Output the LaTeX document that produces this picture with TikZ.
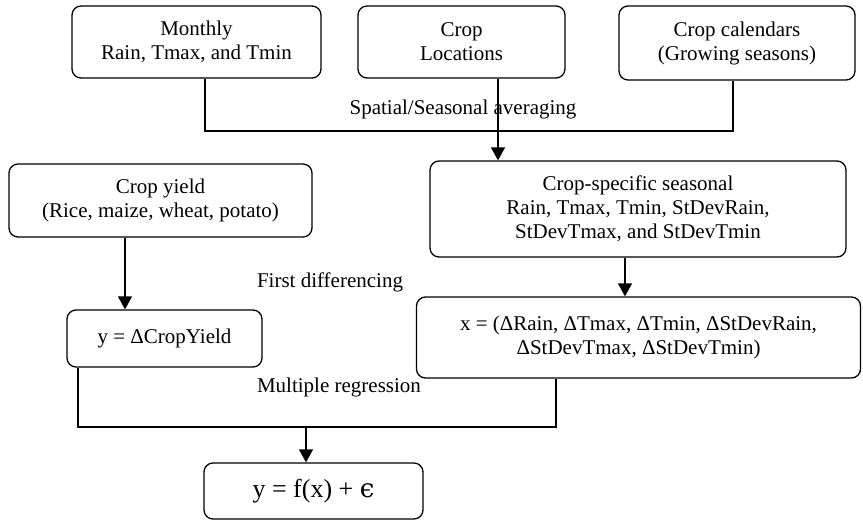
\documentclass[tikz,border=0pt]{standalone}
\usepackage{fontspec}
\setmainfont{Liberation Serif}
\newfontfamily\grkfont{DejaVu Serif}
\usetikzlibrary{arrows.meta}
\tikzset{box/.style={draw,line width=1.3pt,rounded corners=9pt,align=center,inner sep=0pt,
                     font=\fontsize{21}{24}\selectfont},
         lbl/.style={font=\fontsize{21}{24}\selectfont,inner sep=0pt},
         link/.style={line width=1.3pt},
         arr/.style={line width=1.3pt,-{Triangle[width=14pt,length=13pt]}}}
\begin{document}
\begin{tikzpicture}[x=1pt,y=-1pt]
                    \useasboundingbox (0,0) rectangle (863,520);
                    \node[box,minimum width=249pt,minimum height=72pt] (mon) at (196.5,42) {Monthly\\Rain, Tmax, and Tmin};
                    \node[box,minimum width=207pt,minimum height=72pt] (loc) at (461.5,42) {Crop\\Locations};
                    \node[box,minimum width=236pt,minimum height=74pt] (cal) at (737,43) {Crop calendars\\(Growing seasons)};
                    \node[box,minimum width=303pt,minimum height=73pt] (yld) at (160.5,200.5) {Crop yield\\(Rice, maize, wheat, potato)};
                    \node[box,minimum width=416pt,minimum height=96pt] (spec) at (638,209) {Crop-specific seasonal\\Rain, Tmax, Tmin, StDevRain,\\StDevTmax, and StDevTmin};
                    \node[box,minimum width=195pt,minimum height=57pt] (dy) at (164.5,338.5) {y = ΔCropYield};
                    \node[box,minimum width=444pt,minimum height=81pt] (dx) at (638.5,337.5) {x = (ΔRain, ΔTmax, ΔTmin, ΔStDevRain,\\ΔStDevTmax, ΔStDevTmin)};
                    \node[box,minimum width=219pt,minimum height=56pt,font=\fontsize{26}{30}\selectfont] (fin) at (313.5,491) {y = f(x) + {\grkfont ϵ}};
                    \node[lbl] (avg) at (463,109) {Spatial/Seasonal averaging};
                    \node[lbl] (dif) at (330,282) {First differencing};
                    \node[lbl] (reg) at (339,387) {Multiple regression};
                    \coordinate (ja) at (205,131);
                    \coordinate (jb) at (733,131);
                    \coordinate (jc) at (498,0);
                    \coordinate (jd) at (625,0);
                    \coordinate (je) at (125,0);
                    \coordinate (jf) at (78,427);
                    \coordinate (jg) at (556,427);
                    \coordinate (jh) at (306,427);
                    \draw[link] (mon.south -| ja) -- (ja) -- (jb) -- (cal.south -| jb);
                    \draw[arr] (loc.south -| jc) -- (spec.north -| jc);
                    \draw[arr] (spec.south -| jd) -- (dx.north -| jd);
                    \draw[arr] (yld.south -| je) -- (dy.north -| je);
                    \draw[link] (dy.south -| jf) -- (jf) -- (jg) -- (dx.south -| jg);
                    \draw[arr] (jh) -- (fin.north -| jh);
                \end{tikzpicture}
\end{document}
